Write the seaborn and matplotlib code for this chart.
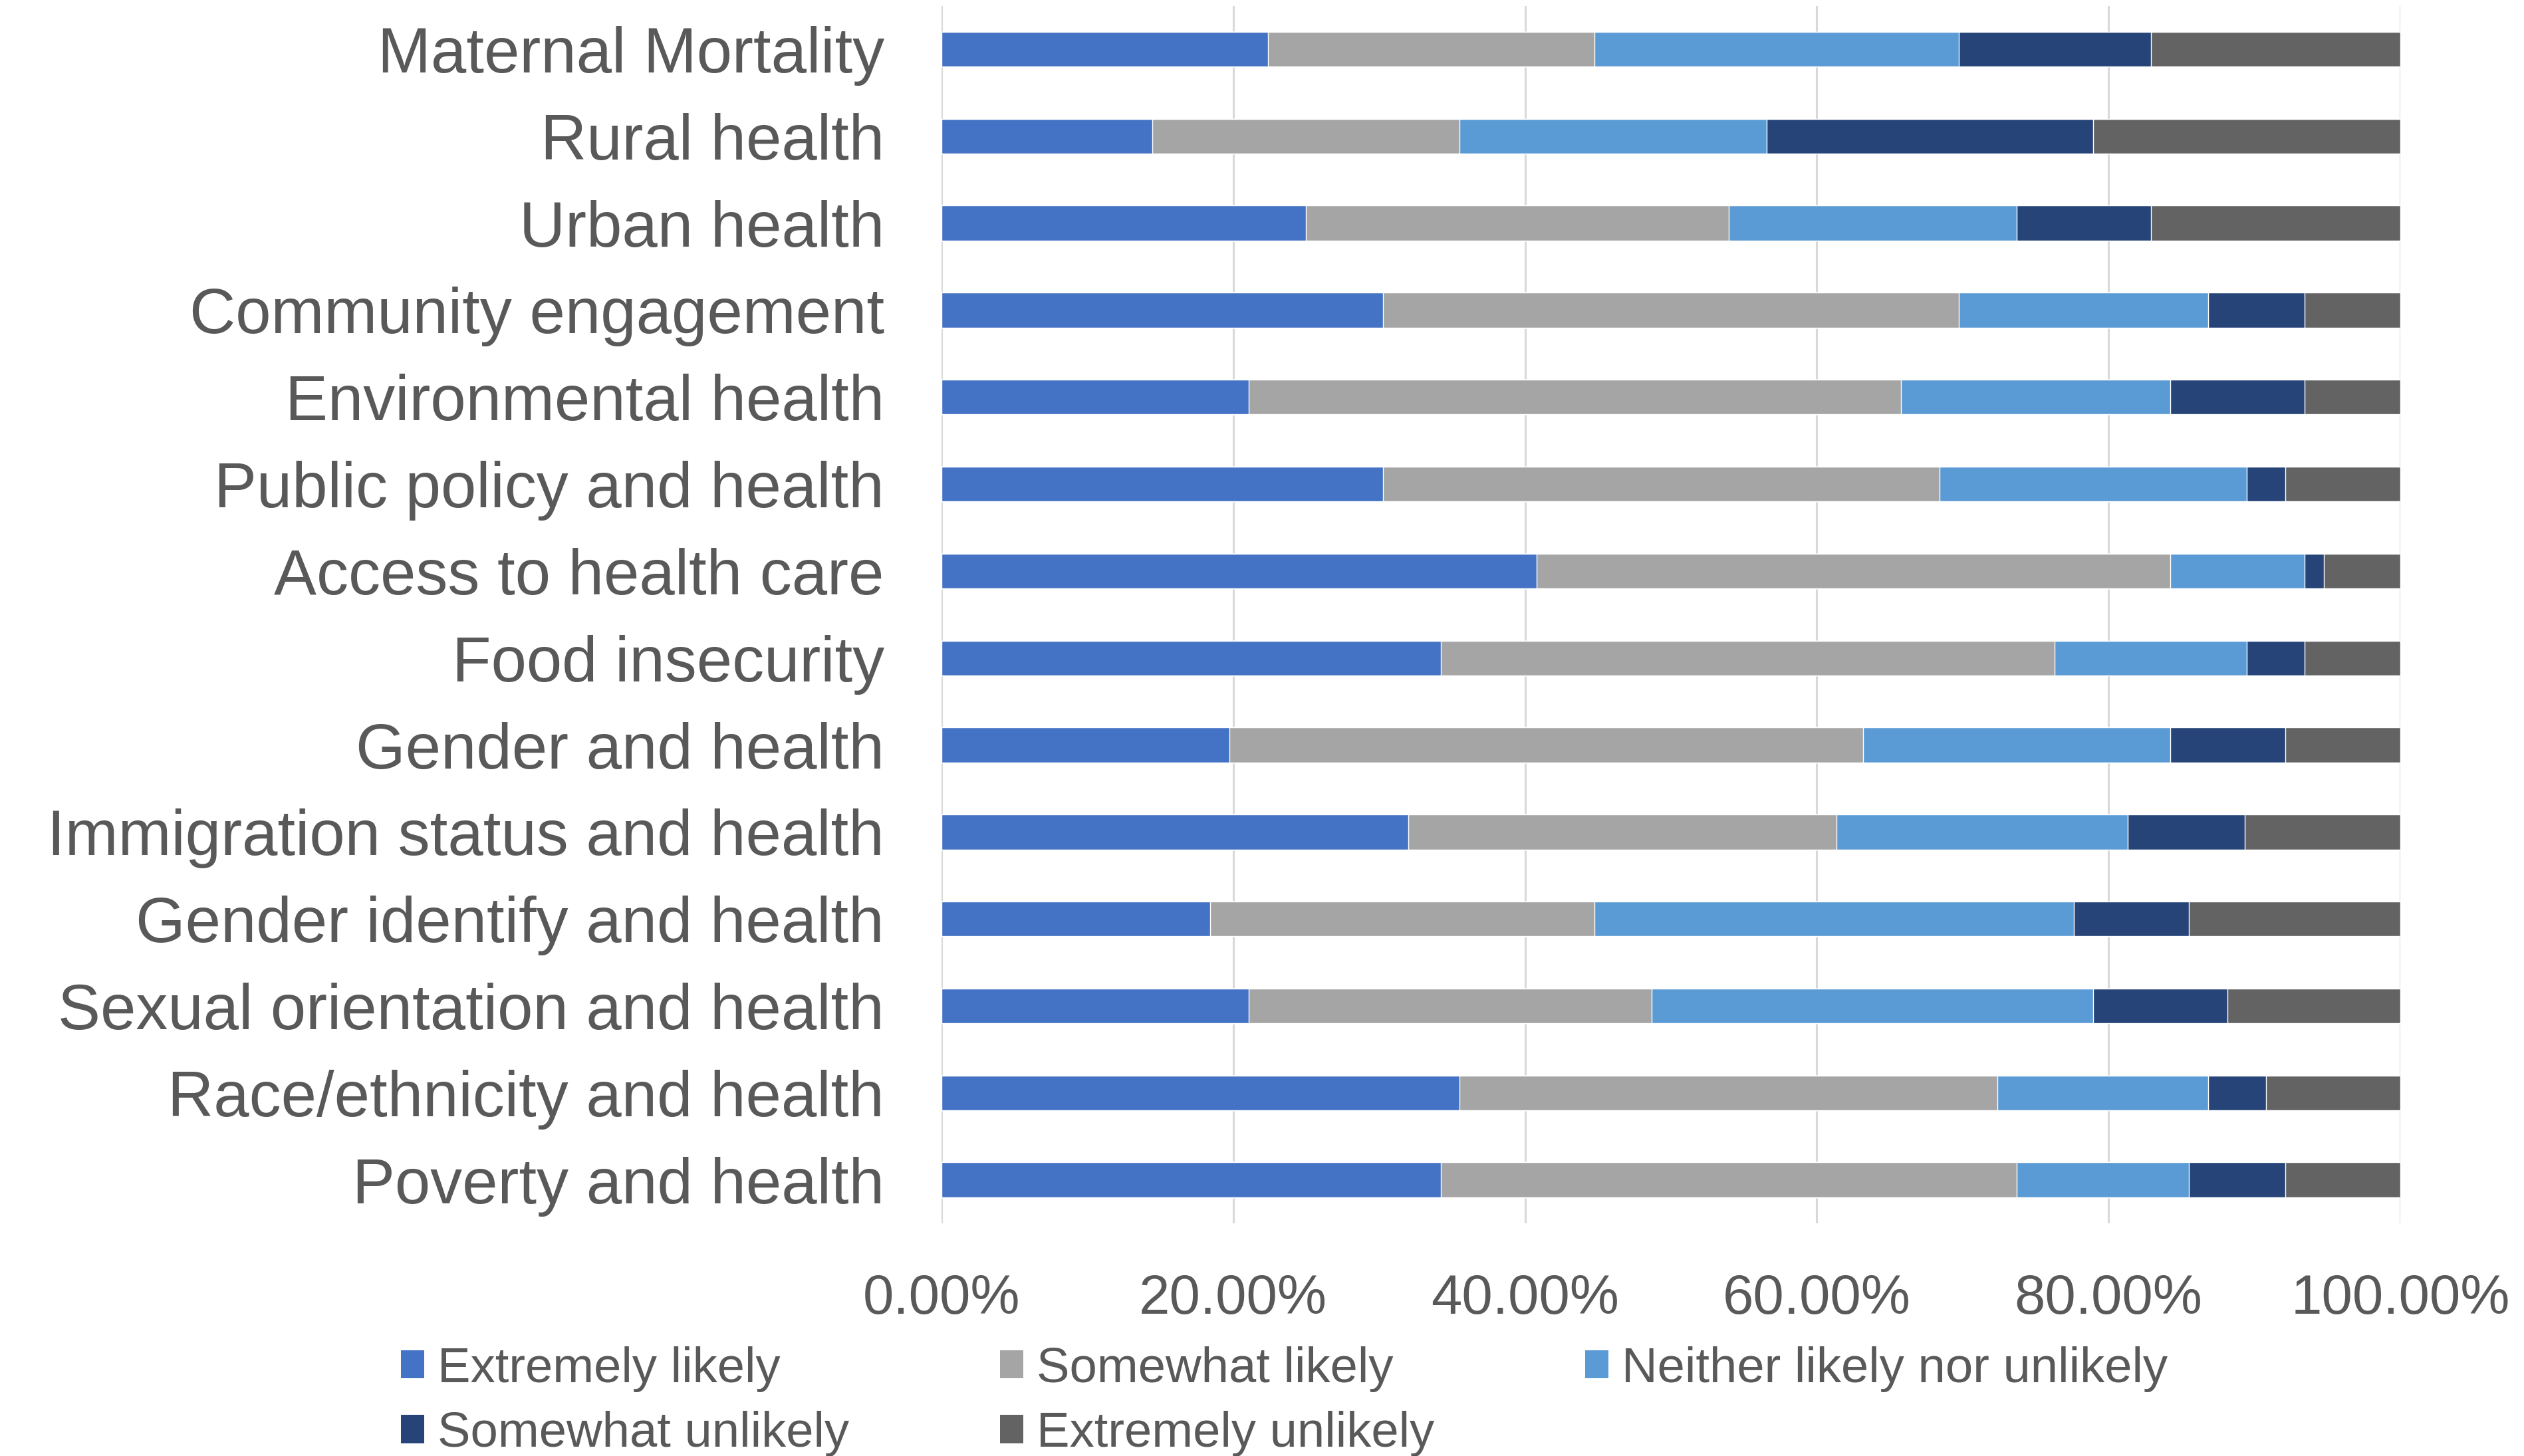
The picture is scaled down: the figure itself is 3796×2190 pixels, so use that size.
import numpy as np
import pandas as pd
import matplotlib
matplotlib.use("Agg")
import matplotlib.pyplot as plt
import seaborn as sns
from matplotlib.patches import Patch
from matplotlib.ticker import FuncFormatter, MultipleLocator

# topics, top to bottom as in the chart
topics = [
    "Maternal Mortality",
    "Rural health",
    "Urban health",
    "Community engagement",
    "Environmental health",
    "Public policy and health",
    "Access to health care",
    "Food insecurity",
    "Gender and health",
    "Immigration status and health",
    "Gender identify and health",
    "Sexual orientation and health",
    "Race/ethnicity and health",
    "Poverty and health",
]

# percent of respondents per answer
extremely_likely = [22.37, 14.47, 25.00, 30.26, 21.05, 30.26, 40.79, 34.21, 19.74, 32.00, 18.42, 21.05, 35.53, 34.21]
somewhat_likely = [22.37, 21.05, 28.95, 39.47, 44.74, 38.16, 43.42, 42.11, 43.42, 29.33, 26.32, 27.63, 36.84, 39.47]
neither = [25.00, 21.05, 19.74, 17.11, 18.42, 21.05, 9.21, 13.16, 21.05, 20.00, 32.89, 30.26, 14.47, 11.84]
somewhat_unlikely = [13.16, 22.37, 9.21, 6.58, 9.21, 2.63, 1.32, 3.95, 7.89, 8.00, 7.89, 9.21, 3.95, 6.58]
extremely_unlikely = [17.11, 21.05, 17.11, 6.58, 6.58, 7.89, 5.26, 6.58, 7.89, 10.67, 14.47, 11.84, 9.21, 7.89]

answers = ["Extremely likely", "Somewhat likely", "Neither likely nor unlikely",
           "Somewhat unlikely", "Extremely unlikely"]
colors = ["#4472C4", "#A5A5A5", "#5B9BD5", "#264478", "#636363"]

df = pd.DataFrame({
    "topic": topics,
    answers[0]: extremely_likely,
    answers[1]: somewhat_likely,
    answers[2]: neither,
    answers[3]: somewhat_unlikely,
    answers[4]: extremely_unlikely,
})
# cumulative sums so the bars can be stacked by overdrawing
cum = df.copy()
cum[answers] = df[answers].cumsum(axis=1)

sns.set_style("white")
plt.rcParams["font.family"] = ["Liberation Sans", "DejaVu Sans"]
txt = "#595959"

fig = plt.figure(figsize=(37.96, 21.90), dpi=100)
ax = fig.add_axes([0.373, 0.1598, 0.578, 0.8363])

for ans, col in reversed(list(zip(answers, colors))):
    sns.barplot(data=cum, x=ans, y="topic", color=col, width=0.4,
                saturation=1, errorbar=None, ax=ax, zorder=3)

ax.set_xlim(0, 100)
ax.xaxis.set_major_locator(MultipleLocator(20))
ax.xaxis.set_major_formatter(FuncFormatter(lambda v, p: f"{v:.2f}%"))
ax.grid(axis="x", color="#D9D9D9", linewidth=2.2, zorder=0)
ax.set_axisbelow(True)
sns.despine(ax=ax, left=True, bottom=True)
ax.set_xlabel("")
ax.set_ylabel("")
ax.tick_params(axis="y", length=0, pad=62, labelsize=69, labelcolor=txt)
ax.tick_params(axis="x", length=0, pad=54, labelsize=60, labelcolor=txt)

# legend filled column-wise, so order gives Excel's row layout
order = [0, 3, 1, 4, 2]
handles = [Patch(facecolor=colors[i], edgecolor="none") for i in order]
labels = [answers[i] for i in order]
leg = fig.legend(handles, labels, ncol=3, loc="upper left",
                 bbox_to_anchor=(0.1589, 0.0755), frameon=False, fontsize=53.5,
                 handlelength=0.47, handleheight=0.5, handletextpad=0.27,
                 columnspacing=3.05, labelspacing=0.38, borderpad=0,
                 borderaxespad=0)
for t in leg.get_texts():
    t.set_color(txt)

fig.savefig("out.png", dpi=100, facecolor="white")
